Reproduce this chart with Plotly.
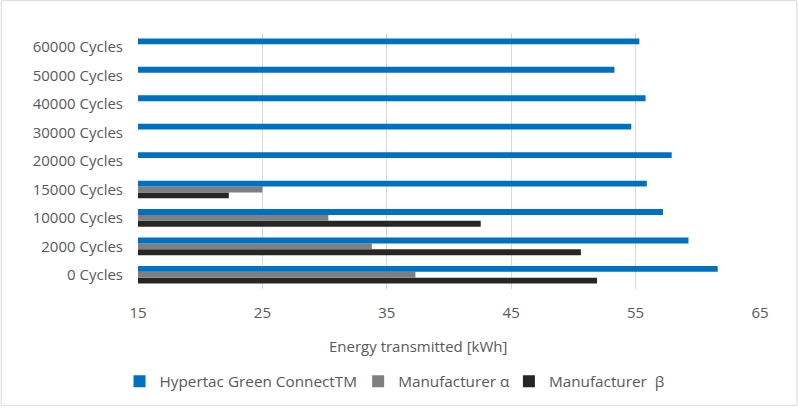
import plotly.graph_objects as go

categories = ["0 Cycles", "2000 Cycles", "10000 Cycles", "15000 Cycles", "20000 Cycles",
              "30000 Cycles", "40000 Cycles", "50000 Cycles", "60000 Cycles"]
hypertac = [61.6, 59.25, 57.2, 55.9, 57.9, 54.65, 55.8, 53.3, 55.3]
manuf_alpha = [37.3, 33.8, 30.3, 25.0, None, None, None, None, None]
manuf_beta = [51.9, 50.6, 42.55, 22.3, None, None, None, None, None]
x_ticks = [15, 25, 35, 45, 55, 65]

W, H = 798, 408
L, R, T, B = 137.5, 37.5, 33, 117.5
pw, ph = W - L - R, H - T - B

FONT = "Open Sans"
TXT = "#595959"

fig = go.Figure()
fig.add_trace(go.Bar(y=categories, x=manuf_beta, orientation="h", name="Manufacturer  β",
                     marker=dict(color="#262626", line=dict(width=0)), legend="legend3"))
fig.add_trace(go.Bar(y=categories, x=manuf_alpha, orientation="h", name="Manufacturer α",
                     marker=dict(color="#7F7F7F", line=dict(width=0)), legend="legend2"))
fig.add_trace(go.Bar(y=categories, x=hypertac, orientation="h", name="Hypertac Green ConnectTM",
                     marker=dict(color="#0070C0", line=dict(width=0)), legend="legend",
                     showlegend=True))

def px_x(p):
    return (p - L) / pw

def px_y(p):
    return (T + ph - p) / ph

leg_common = dict(orientation="h", yanchor="middle", y=px_y(382), xanchor="left",
                  font=dict(family=FONT, size=15.3, color=TXT), bgcolor="rgba(0,0,0,0)",
                  itemwidth=30, visible=True)

fig.update_layout(
    width=W, height=H,
    margin=dict(l=L, r=R, t=T, b=B),
    paper_bgcolor="white", plot_bgcolor="white",
    showlegend=True,
    barmode="group", bargap=0.38, bargroupgap=0,
    font=dict(family=FONT, size=15, color=TXT),
    xaxis=dict(range=[15, 65], tickvals=x_ticks, showgrid=True, gridcolor="#D9D9D9",
               gridwidth=1, zeroline=False, showline=False, ticks="",
               ticklabelstandoff=13, tickfont=dict(family=FONT, size=15, color=TXT)),
    yaxis=dict(categoryorder="array", categoryarray=categories, showgrid=False,
               showline=False, ticks="", ticklabelstandoff=14,
               tickfont=dict(family=FONT, size=15, color=TXT)),
    legend=dict(leg_common, x=px_x(159 - 40)),
    legend2=dict(leg_common, x=px_x(398 - 40)),
    legend3=dict(leg_common, x=px_x(549 - 40)),
    annotations=[dict(text="Energy transmitted [kWh]", xref="paper", yref="paper",
                      x=px_x(417.5), y=px_y(348), xanchor="center", yanchor="middle",
                      showarrow=False, font=dict(family=FONT, size=15, color=TXT))],
    shapes=[dict(type="rect", xref="paper", yref="paper",
                 x0=px_x(0.5), x1=px_x(W - 0.5), y0=px_y(0.5), y1=px_y(H - 0.5),
                 line=dict(color="#D9D9D9", width=1), layer="below")],
)

fig.write_html("out.html")
